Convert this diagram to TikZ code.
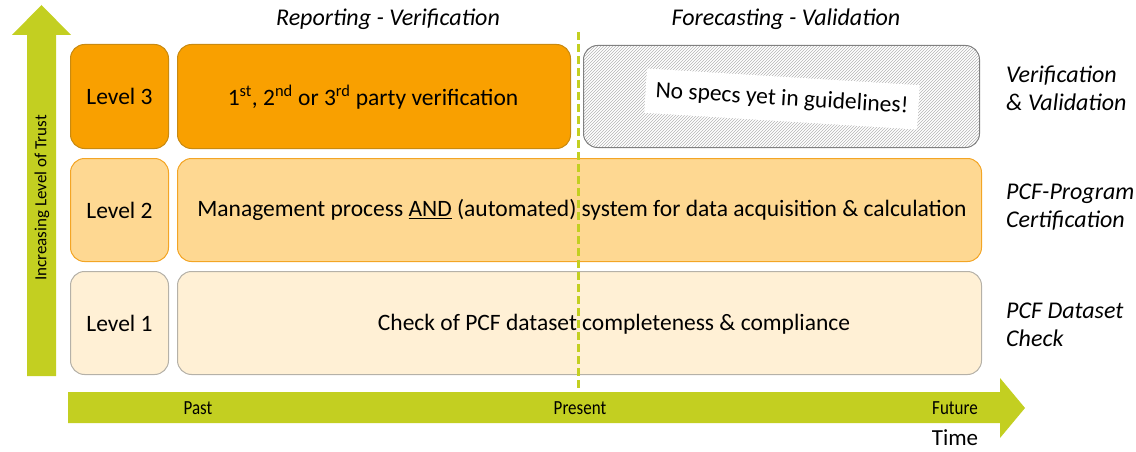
\documentclass[tikz,border=0pt]{standalone}
\usepackage{fontspec}
\setmainfont{Carlito}
\usetikzlibrary{patterns}
\definecolor{lime}{HTML}{C3CF21}
\definecolor{lvlthree}{HTML}{F9A000}
\definecolor{lvlthreeedge}{HTML}{C98A10}
\definecolor{lvltwo}{HTML}{FED892}
\definecolor{lvltwoedge}{HTML}{F3A525}
\definecolor{lvlone}{HTML}{FFF0D5}
\definecolor{lvloneedge}{HTML}{B5B1A8}
\definecolor{hatchgray}{HTML}{B4B4B4}
\tikzset{
  card/.style={rounded corners=14pt, line width=1pt, inner sep=0pt, anchor=north west},
  three/.style={card, fill=lvlthree, draw=lvlthreeedge},
  two/.style={card, fill=lvltwo, draw=lvltwoedge},
  one/.style={card, fill=lvlone, draw=lvloneedge},
  boxtext/.style={font=\fontsize{23.5}{28}\selectfont, inner sep=0pt},
  sidelabel/.style={font=\fontsize{24}{28}\selectfont\itshape, align=left, anchor=west, inner sep=0pt},
  toplabel/.style={font=\fontsize{24}{28}\selectfont\itshape, inner sep=0pt},
  timelabel/.style={font=\fontsize{20}{22}\selectfont, inner sep=0pt},
}
\begin{document}
\begin{tikzpicture}[x=1pt,y=-1pt]
\useasboundingbox (0,0) rectangle (1136,452);

% vertical trust arrow
\fill[lime] (27,376) -- (27,35) -- (12,35) -- (41.5,5) -- (71,35) -- (56,35) -- (56,376) -- cycle;
\node[rotate=90, font=\fontsize{17}{19}\selectfont, inner sep=0pt] (trust) at (42,198) {Increasing Level of Trust};

% time arrow
\fill[lime] (68,392) -- (1000,392) -- (1000,378) -- (1025,408) -- (1000,438) -- (1000,423) -- (68,423) -- cycle;
\node[timelabel] (past) at (198,408) {\scalebox{0.85}[1]{Past}};
\node[timelabel] (present) at (580,408) {\scalebox{0.85}[1]{Present}};
\node[timelabel] (future) at (955,408) {\scalebox{0.85}[1]{Future}};
\node[font=\fontsize{23}{26}\selectfont, inner sep=0pt] (time) at (955,438) {Time};

% level cards
\node[three, minimum width=98pt, minimum height=104pt] (l3) at (70,44) {};
\node[two, minimum width=98pt, minimum height=103pt] (l2) at (70,158) {};
\node[one, minimum width=98pt, minimum height=103pt] (l1) at (70,271) {};
\node[boxtext] at (l3.center) {Level 3};
\node[boxtext] at (l2.center) {Level 2};
\node[boxtext] at (l1.center) {Level 1};

% content cards
\node[three, minimum width=393pt, minimum height=104pt] (verif) at (177,44) {};
\node[boxtext] at (373,97) {1\textsuperscript{st}, 2\textsuperscript{nd} or 3\textsuperscript{rd} party verification};

\node[card, draw=gray, pattern=north east lines, pattern color=hatchgray, minimum width=396pt, minimum height=102pt] (future box) at (583,45) {};
\node[boxtext, fill=white, rotate=-3.5, inner xsep=10pt, inner ysep=12pt] (nospecs) at (782,99) {No specs yet in guidelines!};

\node[two, minimum width=804pt, minimum height=103pt] (mgmt) at (177,158) {};
\node[boxtext] at (582,210) {Management process \underline{AND} (automated) system for data acquisition \& calculation};

\node[one, minimum width=804pt, minimum height=103pt] (check) at (177,271) {};
\node[boxtext] at (614,324) {Check of PCF dataset completeness \& compliance};

% present marker
\coordinate (now top) at (578,32);
\coordinate (now bottom) at (578,392);
\draw[lime, line width=3pt, dash pattern=on 8pt off 4pt] (now top) -- (now bottom);

% column headings
\node[toplabel] (report) at (388,19) {Reporting - Verification};
\node[toplabel] (forecast) at (786,19) {Forecasting - Validation};

% row headings
\node[sidelabel] (r3) at (1006,88) {Verification\\\& Validation};
\node[sidelabel] (r2) at (1006,207) {PCF-Program\\Certification};
\node[sidelabel] (r1) at (1006,325) {PCF Dataset\\Check};
\end{tikzpicture}
\end{document}
